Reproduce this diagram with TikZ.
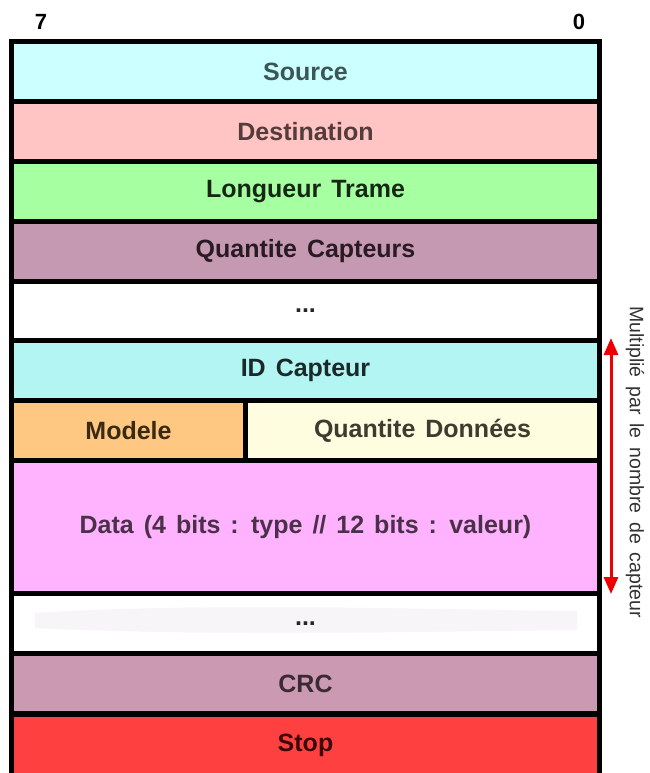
\documentclass[tikz,border=0pt]{standalone}
\usepackage{fontspec}
\setmainfont{Liberation Sans}
\usetikzlibrary{arrows.meta}
\newcommand{\fieldfont}{\fontsize{25}{29}\selectfont\bfseries\spaceskip=0.4em plus 0.1em\relax}
\newcommand{\sidefont}{\fontsize{19.5}{24}\selectfont\spaceskip=0.45em plus 0.1em\relax}
\definecolor{cSrc}{HTML}{CCFFFF}\definecolor{tSrc}{HTML}{3C5555}
\definecolor{cDst}{HTML}{FFC4C4}\definecolor{tDst}{HTML}{553C3C}
\definecolor{cLen}{HTML}{A6FFA0}\definecolor{tLen}{HTML}{142814}
\definecolor{cQC}{HTML}{C699B2}\definecolor{tQC}{HTML}{2A1A24}
\definecolor{cID}{HTML}{B3F5F2}\definecolor{tID}{HTML}{1A2A2A}
\definecolor{cMod}{HTML}{FFC882}\definecolor{tMod}{HTML}{3A2A12}
\definecolor{cQD}{HTML}{FFFDE0}\definecolor{tQD}{HTML}{3C3C30}
\definecolor{cData}{HTML}{FFB3FF}\definecolor{tData}{HTML}{4A3048}
\definecolor{cCRC}{HTML}{CC99B2}\definecolor{tCRC}{HTML}{3A2A32}
\definecolor{cStop}{HTML}{FF4040}\definecolor{tStop}{HTML}{3A0808}
\definecolor{arrowred}{HTML}{EE0000}
\definecolor{brush}{HTML}{F7F5F7}
\tikzset{
  field/.style={inner sep=0pt, minimum height=55pt, minimum width=583pt, font=\fieldfont},
  bitlabel/.style={inner sep=0pt, font=\fontsize{22}{26}\selectfont\bfseries},
  sidelabel/.style={inner sep=0pt, rotate=-90, text=black!80, font=\sidefont},
  mularrow/.style={arrowred, line width=3pt,
    {Triangle[length=17pt,width=14pt]}-{Triangle[length=17pt,width=14pt]}}
}
\begin{document}
\begin{tikzpicture}[x=1pt,y=-1pt]
\useasboundingbox (0,0) rectangle (649,773);
\fill[white] (0,0) rectangle (649,773);
% frame
\fill[black] (9,39) rectangle (602,773);
% rows
\node[field, fill=cSrc, text=tSrc] (src) at (305.5,71.5) {Source};
\node[field, fill=cDst, text=tDst] (dst) at (305.5,131.5) {Destination};
\node[field, fill=cLen, text=tLen] (len) at (305.5,191.5) {Longueur Trame};
\node[field, fill=cQC, text=tQC] (qc) at (305.5,251.5) {Quantite Capteurs};
\node[field, fill=white, minimum height=54pt, text=black!85] (dots1) at (305.5,311) {...};
\node[field, fill=cID, text=tID] (id) at (305.5,370.5) {ID Capteur};
\node[field, fill=cMod, text=tMod, minimum width=229pt] (mod) at (128.5,430.5) {Modele};
\node[field, fill=cQD, text=tQD, minimum width=349pt] (qd) at (422.5,430.5) {Quantite Données};
\node[field, fill=cData, text=tData, minimum height=128pt] (data) at (305.5,527) {Data (4 bits : type // 12 bits : valeur)};
\node[field, fill=white] (dots2) at (305.5,623.5) {};
\fill[brush] (35,613) .. controls (200,602) and (450,610) .. (577,611) -- (577,630) .. controls (400,632) and (200,636) .. (35,628) -- cycle;
\node[field, text=black!85] (dots2t) at (305.5,623.5) {...};
\node[field, fill=cCRC, text=tCRC] (crc) at (305.5,683.5) {CRC};
\node[field, fill=cStop, text=tStop, minimum height=56pt] (stop) at (305.5,745) {Stop};
% bit labels
\node[bitlabel] (b7) at (41,22) {7};
\node[bitlabel] (b0) at (579,22) {0};
% side arrow
\coordinate (atop) at (611,338);
\coordinate (abot) at (611,594);
\draw[mularrow] (atop) -- (abot);
\node[sidelabel] (mult) at (635,462) {Multiplié par le nombre de capteur};
\end{tikzpicture}
\end{document}
